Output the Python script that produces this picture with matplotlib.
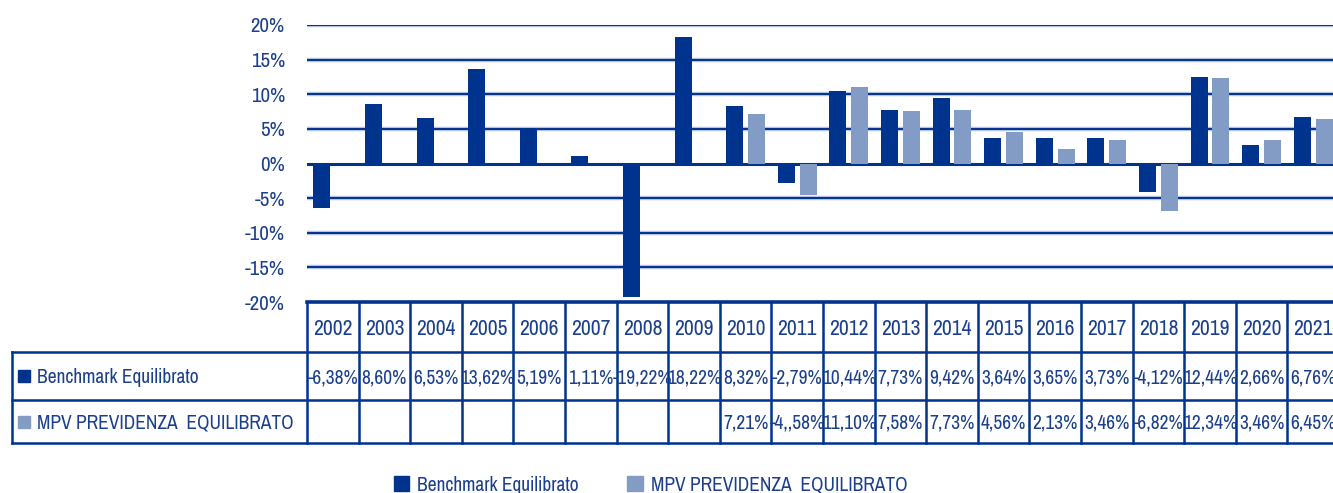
import matplotlib.pyplot as plt
import matplotlib.patches as mpatches
from matplotlib import font_manager

# dati
years = [str(y) for y in range(2002, 2022)]
benchmark = [-6.38, 8.60, 6.53, 13.62, 5.19, 1.11, -19.22, 18.22, 8.32, -2.79,
             10.44, 7.73, 9.42, 3.64, 3.65, 3.73, -4.12, 12.44, 2.66, 6.76]
mpv = [None, None, None, None, None, None, None, None, 7.21, -4.58,
       11.10, 7.58, 7.73, 4.56, 2.13, 3.46, -6.82, 12.34, 3.46, 6.45]
mpv_labels = ['', '', '', '', '', '', '', '', '7,21%', '-4,,58%',
              '11,10%', '7,58%', '7,73%', '4,56%', '2,13%', '3,46%', '-6,82%', '12,34%', '3,46%', '6,45%']
series_names = ['Benchmark Equilibrato', 'MPV PREVIDENZA  EQUILIBRATO']
yticks = [-20, -15, -10, -5, 0, 5, 10, 15, 20]

dark = '#00338D'
light = '#829CC5'
txt = '#1B3F8F'

# font stretto tipo Arial Narrow, se disponibile
names = {f.name for f in font_manager.fontManager.ttflist}
fam = 'Liberation Sans'
for cand in ['Liberation Sans Narrow', 'Arial Narrow', 'Archivo Narrow', 'Roboto Condensed',
             'PT Sans Narrow', 'Open Sans Condensed', 'Pragati Narrow']:
    if cand in names:
        fam = cand
        break
narrow = fam != 'Liberation Sans'
fs = 14 if narrow else 11
plt.rcParams['font.family'] = [fam, 'DejaVu Sans']

W, H = 1333, 493
fig = plt.figure(figsize=(W / 100, H / 100), dpi=100)

# area del grafico
x0, x1 = 307, 1339
ytop, ybot = 25, 302
ax = fig.add_axes([x0 / W, 1 - ybot / H, (x1 - x0) / W, (ybot - ytop) / H])
ax.set_xlim(-0.5, len(years) - 0.5)
ax.set_ylim(-20, 20)

for t in yticks:
    if t == 0 or t == -20:
        continue
    ax.axhline(t, color='#B5C3E0', lw=3.2, zorder=1)
    ax.axhline(t, color=dark, lw=1.4, zorder=1)

bw = 0.33
off = 0.21
xs = list(range(len(years)))
ax.bar([x - off for x in xs], benchmark, width=bw, color=dark, zorder=3)
mx = [x + off for x, v in zip(xs, mpv) if v is not None]
mv = [v for v in mpv if v is not None]
ax.bar(mx, mv, width=bw, color=light, zorder=3)
ax.axhline(0, color=dark, lw=2.2, zorder=2)

ax.set_yticks(yticks)
ax.set_yticklabels([f'{t}%' for t in yticks], fontsize=fs + 1, color=txt)
ax.tick_params(axis='y', length=0, pad=16)
ax.set_xticks([])
for s in ['top', 'right', 'left', 'bottom']:
    ax.spines[s].set_visible(False)

# tabella dati
tx0 = 12
tab_bottom = 443
tab = fig.add_axes([tx0 / W, 1 - tab_bottom / H, (x1 - tx0) / W, (tab_bottom - ybot) / H])
colw = (x1 - x0) / len(years)
left_edge = -0.5 - (x0 - tx0) / colw
tab.set_xlim(left_edge, len(years) - 0.5)
tab.set_ylim(tab_bottom, ybot)
tab.axis('off')

r0, r1, r2, r3 = ybot, 352, 400, tab_bottom
lc = dark
tab.plot([-0.5, len(years) - 0.5], [r0, r0], color=lc, lw=2.6, clip_on=False)
tab.plot([left_edge, len(years) - 0.5], [r1, r1], color=lc, lw=1.8, clip_on=False)
tab.plot([left_edge, len(years) - 0.5], [r2, r2], color=lc, lw=1.8, clip_on=False)
tab.plot([left_edge, len(years) - 0.5], [r3, r3], color=lc, lw=1.8, clip_on=False)
tab.plot([left_edge, left_edge], [r1, r3], color=lc, lw=1.8, clip_on=False)
for i in range(len(years) + 1):
    tab.plot([i - 0.5, i - 0.5], [r0, r3], color=lc, lw=1.8, clip_on=False)

for i, y in enumerate(years):
    tab.text(i, (r0 + r1) / 2 + 2, y, ha='center', va='center', fontsize=fs + 1.5, color=txt)
    tab.text(i, (r1 + r2) / 2 + 2, f'{benchmark[i]:.2f}%'.replace('.', ','),
             ha='center', va='center', fontsize=fs, color=txt)
    tab.text(i, (r2 + r3) / 2 + 1, mpv_labels[i], ha='center', va='center', fontsize=fs, color=txt)

sq = 12 / colw
for (ra, rb), name, c in [((r1, r2), series_names[0], dark), ((r2, r3), series_names[1], light)]:
    yc = (ra + rb) / 2
    tab.add_patch(mpatches.Rectangle((left_edge + 6 / colw, yc - 6), sq, 12, color=c, clip_on=False))
    tab.text(left_edge + 25 / colw, yc + 1, name, ha='left', va='center', fontsize=fs, color=txt)

# legenda
handles = [mpatches.Patch(color=dark), mpatches.Patch(color=light)]
fig.legend(handles, series_names, loc='center', bbox_to_anchor=(0.488, 0.016), ncol=2,
           frameon=False, fontsize=fs, labelcolor=txt, handlelength=0.8, handleheight=0.8,
           handletextpad=0.4, columnspacing=2.5)

fig.savefig('out.png', dpi=100)
